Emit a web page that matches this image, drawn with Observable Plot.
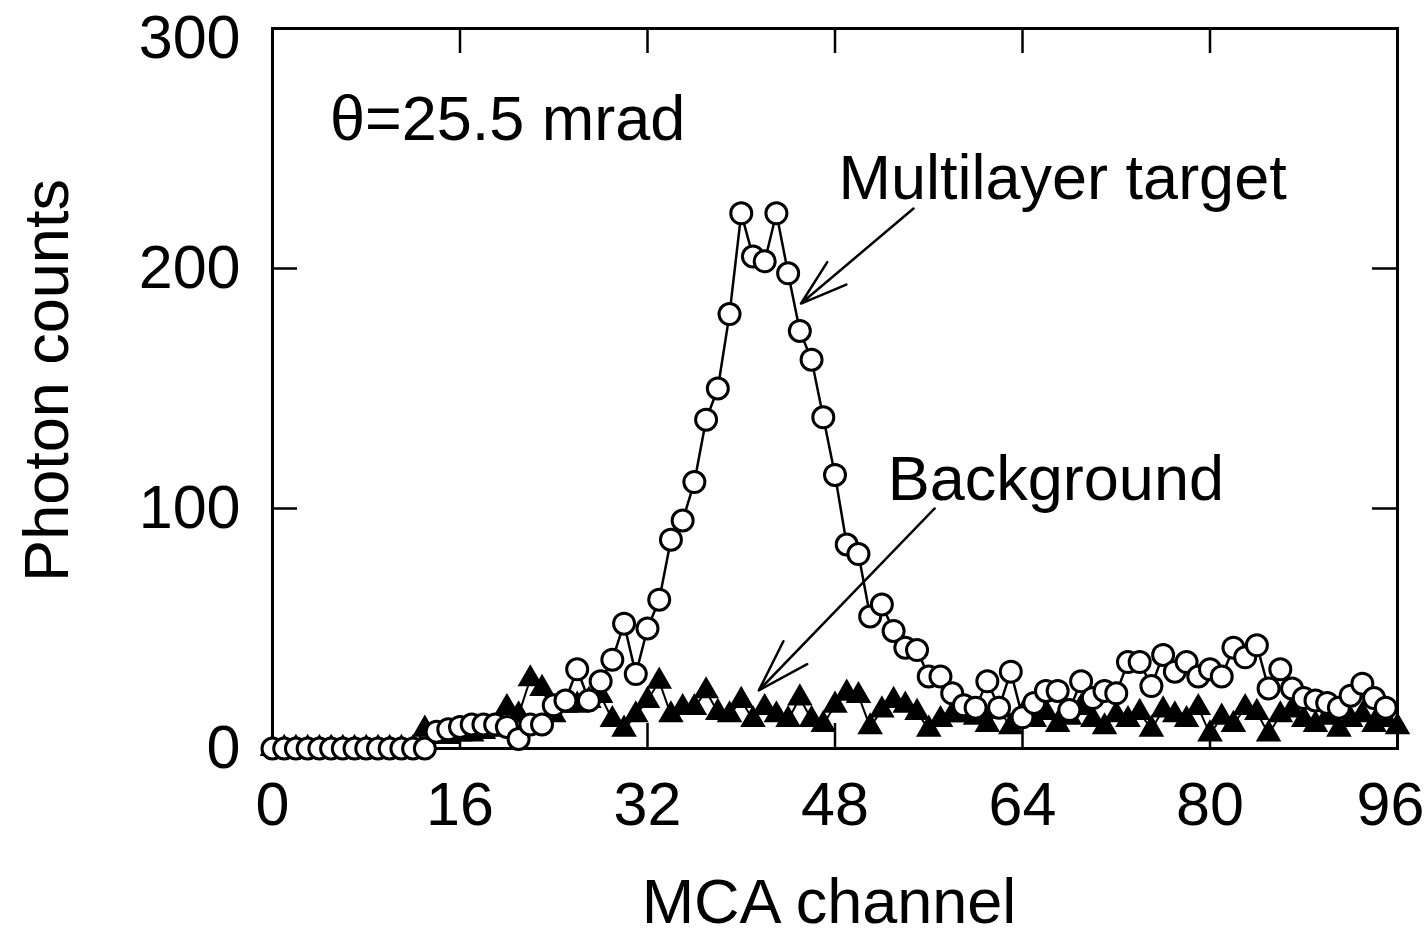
<!DOCTYPE html>
<html>
<head>
<meta charset="utf-8">
<script src="https://cdn.jsdelivr.net/npm/d3@7"></script>
<script src="https://cdn.jsdelivr.net/npm/@observablehq/plot@0.6"></script>
<style>
  html, body { margin: 0; padding: 0; background: #fff; }
  #chart { width: 1427px; height: 933px; }
</style>
</head>
<body>
<div id="chart"></div>
<script>
// MCA channel numbers for each series
const targetChannels = [0,1,2,3,4,5,6,7,8,9,10,11,12,13,14,15,16,17,18,19,20,21,22,23,24,25,26,27,28,29,30,31,32,33,34,35,36,37,38,39,40,41,42,43,44,45,46,47,48,49,50,51,52,53,54,55,56,57,58,59,60,61,62,63,64,65,66,67,68,69,70,71,72,73,74,75,76,77,78,79,80,81,82,83,84,85,86,87,88,89,90,91,92,93,94,95];
// Photon counts with the multilayer target
const targetCounts = [0,0,0,0,0,0,0,0,0,0,0,0,0,0,7,8,9,10,10,10,9,4,10,10,18,20,33,20,28,37,52,31,50,62,87,95,111,137,150,181,223,205,203,223,198,174,162,138,114,85,81,55,60,49,42,41,30,30,23,18,17,28,17,32,13,19,24,24,16,28,21,24,23,36,36,26,39,32,36,30,33,30,42,38,43,25,33,25,21,20,19,17,22,27,21,17];

const backgroundChannels = [0,1,2,3,4,5,6,7,8,9,10,11,12,13,14,15,16,17,18,19,20,21,22,23,24,25,26,27,28,29,30,31,32,33,34,35,36,37,38,39,40,41,42,43,44,45,46,47,48,49,50,51,52,53,54,55,56,57,58,59,60,61,62,63,64,65,66,67,68,69,70,71,72,73,74,75,76,77,78,79,80,81,82,83,84,85,86,87,88,89,90,91,92,93,94,95,96];
// Photon counts without the target (background)
const backgroundCounts = [0,0,0,0,0,0,0,0,0,0,0,0,0,8,5,5,6,6,7,8,17,14,29,25,14,18,18,20,22,12,8,14,20,28,14,17,17,24,15,14,20,12,17,14,12,21,12,10,18,23,22,9,16,20,18,15,8,12,14,14,13,10,16,9,14,12,15,10,13,17,12,9,14,12,15,8,16,14,12,17,6,13,10,17,15,6,14,16,12,10,13,8,12,14,10,12,9];

// Axis ticks
const xTickValues = [0,16,32,48,64,80];
const xLastTick = [96];
const yTickValues = [0,100,200];
const yTopTick = [300];
const xInnerTicks = [16,32,48,64,80];
const yInnerTicks = [100,200];

// Annotation texts and arrows (data coordinates)
const angleLabel = ["θ=25.5 mrad"];
const angleLabelAt = {x: 4.9, y: 262};
const seriesLabels = ["Multilayer target", "Background"];
const seriesLabelX = [48.3, 52.5];
const seriesLabelY = [237.5, 112];
const arrowStartX = [54.7, 56.5];
const arrowStartY = [225, 100];
const arrowEndX = [45.1, 41.5];
const arrowEndY = [185.4, 24.2];

const xLabel = "MCA channel";
const yLabel = "Photon counts";

const W = 1427, H = 933;
const margin = {left: 272, right: 30, top: 28, bottom: 185};
const xDomain = [0, 96], yDomain = [0, 300];
const tickPx = 25;
// inward tick length expressed in data units of each axis
const tickLenY = tickPx * (yDomain[1] - yDomain[0]) / (H - margin.top - margin.bottom);
const tickLenX = tickPx * (xDomain[1] - xDomain[0]) / (W - margin.left - margin.right);

const target = targetChannels.map((c, i) => ({channel: c, counts: targetCounts[i]}));
const background = backgroundChannels.map((c, i) => ({channel: c, counts: backgroundCounts[i]}));
const arrows = seriesLabels.map((s, i) => ({x1: arrowStartX[i], y1: arrowStartY[i], x2: arrowEndX[i], y2: arrowEndY[i]}));
const labels = seriesLabels.map((s, i) => ({text: s, x: seriesLabelX[i], y: seriesLabelY[i]}));

const font = "'Liberation Sans', Arial, Helvetica, sans-serif";
const tickFont = 61, labelFont = 63;
const tickText = {fontSize: tickFont, fill: "#000", lineAnchor: "middle", text: d => String(d)};

const chart = Plot.plot({
  width: W,
  height: H,
  marginLeft: margin.left,
  marginRight: margin.right,
  marginTop: margin.top,
  marginBottom: margin.bottom,
  style: {fontFamily: font, fontSize: tickFont + "px", color: "#000", background: "#fff", overflow: "visible"},
  x: {domain: xDomain, axis: null},
  y: {domain: yDomain, axis: null},
  marks: [
    Plot.frame({stroke: "#000", strokeWidth: 3}),
    // inward ticks on all four sides
    Plot.ruleX(xInnerTicks, {y1: yDomain[0], y2: yDomain[0] + tickLenY, stroke: "#000", strokeWidth: 2.5}),
    Plot.ruleX(xInnerTicks, {y1: yDomain[1] - tickLenY, y2: yDomain[1], stroke: "#000", strokeWidth: 2.5}),
    Plot.ruleY(yInnerTicks, {x1: xDomain[0], x2: xDomain[0] + tickLenX, stroke: "#000", strokeWidth: 2.5}),
    Plot.ruleY(yInnerTicks, {x1: xDomain[1] - tickLenX, x2: xDomain[1], stroke: "#000", strokeWidth: 2.5}),
    // x tick labels (the last one nudged inside the page edge)
    Plot.text(xTickValues, {...tickText, x: d => d, frameAnchor: "bottom", dy: 57, textAnchor: "middle"}),
    Plot.text(xLastTick, {...tickText, x: d => d, frameAnchor: "bottom", dy: 57, dx: -7, textAnchor: "middle"}),
    // y tick labels (the top one sits a little below its tick)
    Plot.text(yTickValues, {...tickText, y: d => d, frameAnchor: "left", dx: -32, textAnchor: "end"}),
    Plot.text(yTopTick, {...tickText, y: d => d, frameAnchor: "left", dx: -32, dy: 10, textAnchor: "end"}),
    // background series: filled triangles
    Plot.line(background, {x: "channel", y: "counts", stroke: "#000", strokeWidth: 2}),
    Plot.dot(background, {x: "channel", y: "counts", symbol: "triangle", r: 9.5, fill: "#000", stroke: "none"}),
    // multilayer target series: open circles joined by a line
    Plot.line(target, {x: "channel", y: "counts", stroke: "#000", strokeWidth: 2.5}),
    Plot.dot(target, {x: "channel", y: "counts", r: 10.5, fill: "#fff", stroke: "#000", strokeWidth: 3}),
    // annotations
    Plot.text(angleLabel, {x: angleLabelAt.x, y: angleLabelAt.y, text: d => d, textAnchor: "start", lineAnchor: "middle", fontSize: labelFont, fill: "#000"}),
    Plot.text(labels, {x: "x", y: "y", text: "text", textAnchor: "start", lineAnchor: "middle", fontSize: labelFont, fill: "#000"}),
    Plot.arrow(arrows, {x1: "x1", y1: "y1", x2: "x2", y2: "y2", stroke: "#000", strokeWidth: 2.5, headLength: 33, headAngle: 35}),
    // axis titles
    Plot.text([xLabel], {frameAnchor: "bottom", dy: 154, dx: -6, text: d => d, textAnchor: "middle", lineAnchor: "middle", fontSize: labelFont, fill: "#000"}),
    Plot.text([yLabel], {frameAnchor: "left", dx: -225, dy: -8, rotate: -90, text: d => d, textAnchor: "middle", lineAnchor: "middle", fontSize: labelFont, fill: "#000"})
  ]
});

document.getElementById("chart").appendChild(chart);
</script>
</body>
</html>
